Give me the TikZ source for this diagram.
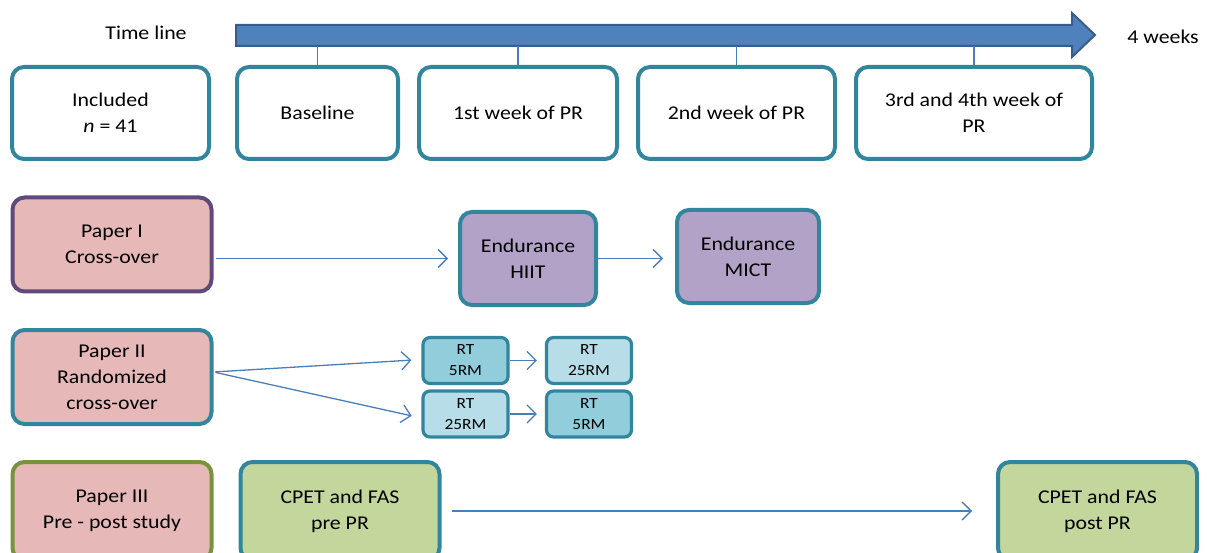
\documentclass[tikz,border=0pt]{standalone}
\usepackage{fontspec}
\setmainfont{Carlito}[FakeStretch=1.12]
\usetikzlibrary{arrows.meta}

\definecolor{tealb}{HTML}{31859C}
\definecolor{paperfill}{HTML}{E6B9B8}
\definecolor{purpleb}{HTML}{604A7B}
\definecolor{lavender}{HTML}{B3A2C7}
\definecolor{greenb}{HTML}{77933C}
\definecolor{greenfill}{HTML}{C3D69B}
\definecolor{rtdark}{HTML}{92CDDC}
\definecolor{rtlight}{HTML}{B7DEE8}
\definecolor{barblue}{HTML}{4F81BD}
\definecolor{bardark}{HTML}{385D8A}
\definecolor{linkblue}{HTML}{4A7EBB}

\begin{document}
\begin{tikzpicture}[x=1pt,y=-1pt,
    box/.style={draw=tealb,line width=4pt,rounded corners=12pt,fill=white,
      align=center,inner sep=0pt,font=\fontsize{19.5}{26}\selectfont},
    paper/.style={box,fill=paperfill,minimum width=199pt,minimum height=94pt},
    rtbox/.style={box,rounded corners=7pt,line width=3.2pt,minimum width=85pt,
      minimum height=46pt,font=\fontsize{15.5}{21}\selectfont},
    link/.style={draw=linkblue,line width=1.3pt,-{Straight Barb[length=9pt,width=18pt]}},
    tick/.style={draw=linkblue,line width=1.2pt}]
  \useasboundingbox (0,0) rectangle (1207,553);

  % time line
  \filldraw[fill=barblue,draw=bardark,line width=2pt]
    (236,25) -- (1072,25) -- (1072,13) -- (1095,35) -- (1072,57) -- (1072,46)
    -- (236,46) -- cycle;
  \coordinate (barbot) at (236,46);
  \node[font=\fontsize{19.5}{26}\selectfont] (tl) at (146,33) {Time line};
  \node[font=\fontsize{19.5}{26}\selectfont] (wks) at (1163,37) {4 weeks};

  % row 1
  \node[box,minimum width=197pt,minimum height=92pt] (incl) at (110.5,113) {Included\\{\itshape n} = 41};
  \node[box,minimum width=161pt,minimum height=92pt] (base) at (317.5,113) {Baseline};
  \node[box,minimum width=198pt,minimum height=92pt] (wk1) at (518,113) {1st week of PR};
  \node[box,minimum width=197pt,minimum height=92pt] (wk2) at (736.5,113) {2nd week of PR};
  \node[box,minimum width=236pt,minimum height=92pt] (wk3) at (974,113) {3rd and 4th week of\\PR};
  \foreach \n in {base,wk1,wk2,wk3}
    \draw[tick] (\n.north) -- (\n.north |- barbot);

  % paper I
  \node[paper,draw=purpleb] (paperI) at (112,244.5) {Paper I\\Cross-over};
  \node[box,fill=lavender,minimum width=136pt,minimum height=93pt] (hiit) at (528,258.5) {Endurance\\HIIT};
  \node[box,fill=lavender,minimum width=142pt,minimum height=93pt] (mict) at (748,256.5) {Endurance\\MICT};
  \draw[link,shorten <=2pt,shorten >=10pt] (paperI.east |- hiit.west) -- (hiit.west);
  \draw[link,shorten >=12pt] (hiit.east) -- (hiit.east -| mict.west);

  % paper II
  \node[paper] (paperII) at (112,377) {Paper II\\Randomized\\cross-over};
  \node[rtbox,fill=rtdark] (rtA) at (465.5,360.5) {RT\\5RM};
  \node[rtbox,fill=rtlight] (rtB) at (589,360.5) {RT\\25RM};
  \node[rtbox,fill=rtlight] (rtC) at (465.5,414) {RT\\25RM};
  \node[rtbox,fill=rtdark] (rtD) at (589,414) {RT\\5RM};
  \draw[link,shorten <=2pt,shorten >=10pt] ([yshift=5pt]paperII.east) -- ([yshift=1pt]rtA.west);
  \draw[link,shorten <=2pt,shorten >=10pt] ([yshift=5pt]paperII.east) -- ([yshift=-4pt]rtC.west);
  \draw[link,shorten >=8pt] (rtA.east) -- (rtB.west);
  \draw[link,shorten >=8pt] (rtC.east) -- (rtD.west);

  % paper III
  \node[paper,draw=greenb,minimum height=98pt] (paperIII) at (112,511) {Paper III\\Pre - post study};
  \node[box,fill=greenfill,minimum width=199pt,minimum height=98pt] (cpetpre) at (340,511) {CPET and FAS\\pre PR};
  \node[box,fill=greenfill,minimum width=199pt,minimum height=98pt] (cpetpost) at (1097.5,511) {CPET and FAS\\post PR};
  \draw[link,shorten <=10pt,shorten >=24pt] (cpetpre) -- (cpetpost);
\end{tikzpicture}
\end{document}
